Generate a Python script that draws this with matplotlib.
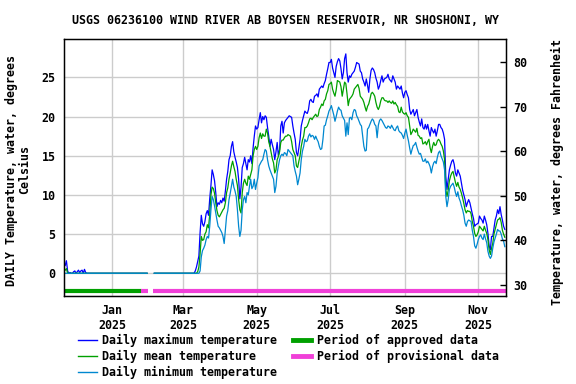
import numpy as np
import pandas as pd
import matplotlib
matplotlib.use("Agg")
import matplotlib.pyplot as plt
import matplotlib.dates as mdates
from matplotlib.lines import Line2D

plt.rcParams['font.family'] = ['DejaVu Sans Mono']
plt.rcParams['font.weight'] = 'bold'
plt.rcParams['font.size'] = 8.4

nan = np.nan

# daily values, 2024-11-23 .. 2025-11-23, deg C
dates = pd.date_range("2024-11-23", "2025-11-23", freq="D")

tmax = (
    # Nov 2024
    [1.0, 1.6, 0.3, 0.0, 0.1, 0.0, 0.0, 0.2]
    # Dec
    + [0.3, 0.0, 0.2, 0.4, 0.1, 0.3, 0.4, 0.0, 0.5, 0.1,
       0.0, 0.0, 0.0, 0.0, 0.0, 0.0, 0.0, 0.0, 0.0, 0.0,
       0.0, 0.0, 0.0, 0.0, 0.0, 0.0, 0.0, 0.0, 0.0, 0.0, 0.0]
    # Jan 2025
    + [0.0, 0.0, 0.0, 0.0, 0.0, 0.0, 0.0, 0.0, 0.0, 0.0,
       0.0, 0.0, 0.0, 0.0, 0.0, 0.0, 0.0, 0.0, 0.0, 0.0,
       0.0, 0.0, 0.0, 0.0, 0.0, 0.0, 0.0, 0.0, 0.0, 0.0, nan]
    # Feb
    + [nan, nan, nan, nan, 0.0, 0.0, 0.0, 0.0, 0.0, 0.0,
       0.0, 0.0, 0.0, 0.0, 0.0, 0.0, 0.0, 0.0, 0.0, 0.0,
       0.0, 0.0, 0.0, 0.0, 0.0, 0.0, 0.0, 0.0]
    # Mar
    + [0.0, 0.0, 0.0, 0.0, 0.0, 0.0, 0.0, 0.0, 0.0, 0.0,
       0.3, 0.8, 1.5, 2.2, 5.2, 7.4, 6.3, 6.0, 6.6, 7.6,
       8.0, 7.4, 9.5, 11.2, 13.2, 12.6, 11.8, 10.3, 8.5, 9.0, 8.8]
    # Apr
    + [9.3, 9.0, 9.6, 9.2, 10.5, 12.0, 13.0, 14.5, 15.0, 16.2,
       16.8, 15.5, 14.8, 14.2, 13.5, 12.0, 9.5, 11.0, 13.5, 14.0,
       14.8, 14.0, 13.2, 14.5, 14.2, 15.0, 14.0, 16.0, 17.5, 18.8]
    # May
    + [18.4, 18.6, 19.6, 20.5, 19.2, 20.0, 19.6, 20.1, 19.9, 18.6,
       17.5, 16.2, 17.1, 16.4, 15.8, 14.5, 15.5, 16.7, 15.0, 15.8,
       18.8, 19.4, 17.9, 19.2, 19.5, 19.7, 19.9, 20.1, 20.0, 19.9, 18.8]
    # Jun
    + [17.9, 17.1, 15.4, 15.0, 16.0, 17.1, 18.8, 19.5, 20.1, 20.7,
       20.5, 20.4, 20.9, 22.0, 22.2, 21.9, 21.8, 22.6, 22.7, 22.9,
       22.5, 23.5, 23.7, 23.9, 23.7, 24.2, 24.6, 25.4, 26.1, 26.9]
    # Jul
    + [26.9, 27.3, 26.2, 25.6, 25.0, 26.4, 27.0, 27.4, 27.1, 26.1,
       24.8, 25.6, 27.4, 28.0, 25.6, 24.4, 25.2, 25.0, 25.4, 25.6,
       25.8, 26.3, 26.9, 26.8, 26.7, 25.8, 25.6, 24.8, 24.4, 23.9, 24.8]
    # Aug
    + [24.0, 23.1, 24.8, 25.9, 26.2, 26.0, 25.6, 24.9, 24.4, 23.5,
       23.9, 24.6, 25.2, 24.4, 24.8, 24.9, 25.0, 25.4, 24.8, 24.6,
       24.4, 25.2, 24.8, 24.4, 23.5, 23.9, 23.7, 23.5, 23.9, 23.0, 22.4]
    # Sep
    + [23.1, 23.3, 22.8, 22.4, 20.9, 20.3, 20.6, 20.9, 20.1, 20.5,
       20.9, 19.9, 19.3, 18.8, 19.7, 18.6, 18.4, 19.0, 18.4, 19.0,
       18.2, 17.5, 18.6, 18.2, 17.9, 18.4, 17.5, 18.2, 19.0, 19.0]
    # Oct
    + [18.6, 18.4, 17.9, 17.1, 12.4, 10.7, 12.0, 13.2, 13.8, 14.3,
       14.5, 13.9, 12.8, 12.4, 13.2, 12.8, 12.4, 11.5, 10.6, 10.0,
       9.4, 8.5, 9.0, 9.4, 9.0, 8.3, 7.6, 7.0, 6.0, 6.2, 6.3]
    # Nov
    + [6.4, 7.3, 7.0, 6.8, 6.4, 7.3, 6.8, 6.2, 5.1, 3.5,
       3.0, 4.7, 4.7, 5.8, 6.8, 7.3, 8.1, 7.6, 8.5, 7.5,
       6.8, 6.0, 5.6]
)

tmean = (
    [0.4, 0.6, 0.0, 0.0, 0.0, 0.0, 0.0, 0.0]
    + [0.0, 0.0, 0.0, 0.0, 0.0, 0.0, 0.0, 0.0, 0.0, 0.0,
       0.0, 0.0, 0.0, 0.0, 0.0, 0.0, 0.0, 0.0, 0.0, 0.0,
       0.0, 0.0, 0.0, 0.0, 0.0, 0.0, 0.0, 0.0, 0.0, 0.0, 0.0]
    + [0.0, 0.0, 0.0, 0.0, 0.0, 0.0, 0.0, 0.0, 0.0, 0.0,
       0.0, 0.0, 0.0, 0.0, 0.0, 0.0, 0.0, 0.0, 0.0, 0.0,
       0.0, 0.0, 0.0, 0.0, 0.0, 0.0, 0.0, 0.0, 0.0, 0.0, nan]
    + [nan, nan, nan, nan, 0.0, 0.0, 0.0, 0.0, 0.0, 0.0,
       0.0, 0.0, 0.0, 0.0, 0.0, 0.0, 0.0, 0.0, 0.0, 0.0,
       0.0, 0.0, 0.0, 0.0, 0.0, 0.0, 0.0, 0.0]
    + [0.0, 0.0, 0.0, 0.0, 0.0, 0.0, 0.0, 0.0, 0.0, 0.0,
       0.0, 0.0, 0.2, 0.8, 2.5, 4.7, 4.2, 4.3, 5.0, 5.3,
       6.2, 5.8, 7.5, 10.0, 11.0, 10.8, 10.2, 9.0, 8.0, 7.4, 7.2]
    + [7.5, 7.8, 8.1, 8.3, 9.0, 10.3, 10.9, 12.0, 12.8, 13.7,
       14.3, 13.6, 13.0, 12.0, 11.2, 9.4, 8.1, 7.7, 10.3, 11.5,
       12.0, 11.5, 11.2, 12.4, 12.0, 12.6, 13.2, 15.0, 15.8, 16.2]
    + [15.8, 16.2, 17.3, 17.9, 17.2, 17.8, 17.5, 17.5, 18.4, 17.9,
       16.8, 16.2, 15.4, 14.6, 14.1, 12.8, 13.2, 14.5, 14.9, 15.5,
       16.7, 17.0, 17.0, 17.3, 17.5, 17.5, 17.7, 17.6, 17.5, 16.8, 15.8]
    + [15.4, 15.0, 13.7, 13.5, 14.3, 15.0, 16.2, 17.0, 17.5, 18.6,
       18.6, 18.8, 19.2, 19.7, 19.8, 19.6, 19.9, 20.1, 20.3, 20.0,
       20.1, 20.9, 21.2, 21.6, 21.4, 22.0, 22.2, 22.9, 23.3, 24.1]
    + [24.2, 24.4, 23.5, 23.0, 22.6, 23.4, 24.6, 24.5, 24.4, 23.8,
       22.6, 23.5, 24.4, 24.2, 22.9, 21.4, 22.2, 22.4, 22.6, 22.9,
       23.5, 23.7, 23.9, 24.1, 23.6, 22.6, 22.4, 22.2, 21.8, 21.2, 20.7]
    + [21.3, 21.6, 22.2, 22.9, 23.1, 22.9, 22.6, 21.8, 21.2, 20.9,
       21.3, 22.0, 22.4, 22.4, 22.1, 22.0, 22.0, 21.8, 22.0, 21.8,
       21.7, 22.0, 21.6, 21.8, 21.5, 21.3, 20.6, 20.5, 21.2, 20.6, 20.4]
    + [20.3, 20.5, 20.1, 19.9, 18.8, 17.7, 18.0, 18.4, 18.2, 18.0,
       18.5, 17.6, 17.5, 17.2, 17.3, 16.5, 16.6, 16.8, 16.4, 16.8,
       17.1, 16.0, 15.4, 16.2, 16.7, 16.3, 16.4, 16.9, 17.1, 16.9]
    + [16.5, 16.2, 15.6, 14.5, 10.7, 9.8, 10.6, 11.8, 12.4, 12.8,
       13.0, 12.3, 11.6, 11.1, 11.6, 11.0, 10.7, 10.2, 9.6, 8.9,
       8.1, 7.7, 8.0, 7.9, 7.9, 7.6, 6.6, 6.0, 5.1, 4.7, 4.9]
    + [5.3, 6.0, 5.8, 5.6, 5.4, 6.0, 5.5, 5.1, 4.3, 3.0,
       2.4, 3.2, 3.8, 5.0, 5.6, 6.2, 6.8, 6.9, 7.1, 6.5,
       5.5, 5.0, 4.6]
)

tmin = (
    [0.0, 0.0, 0.0, 0.0, 0.0, 0.0, 0.0, 0.0]
    + [0.0, 0.0, 0.0, 0.0, 0.0, 0.0, 0.0, 0.0, 0.0, 0.0,
       0.0, 0.0, 0.0, 0.0, 0.0, 0.0, 0.0, 0.0, 0.0, 0.0,
       0.0, 0.0, 0.0, 0.0, 0.0, 0.0, 0.0, 0.0, 0.0, 0.0, 0.0]
    + [0.0, 0.0, 0.0, 0.0, 0.0, 0.0, 0.0, 0.0, 0.0, 0.0,
       0.0, 0.0, 0.0, 0.0, 0.0, 0.0, 0.0, 0.0, 0.0, 0.0,
       0.0, 0.0, 0.0, 0.0, 0.0, 0.0, 0.0, 0.0, 0.0, 0.0, nan]
    + [nan, nan, nan, nan, 0.0, 0.0, 0.0, 0.0, 0.0, 0.0,
       0.0, 0.0, 0.0, 0.0, 0.0, 0.0, 0.0, 0.0, 0.0, 0.0,
       0.0, 0.0, 0.0, 0.0, 0.0, 0.0, 0.0, 0.0]
    + [0.0, 0.0, 0.0, 0.0, 0.0, 0.0, 0.0, 0.0, 0.0, 0.0,
       0.0, 0.0, 0.0, 0.0, 0.3, 2.1, 2.9, 3.2, 3.6, 4.3,
       4.7, 4.5, 6.0, 8.1, 9.8, 9.4, 8.6, 7.7, 6.8, 6.0, 5.8]
    + [5.5, 5.2, 4.7, 3.8, 5.5, 7.3, 8.0, 9.4, 10.2, 11.1,
       12.0, 11.0, 10.5, 9.8, 8.1, 6.0, 4.7, 5.5, 8.1, 9.4,
       9.8, 9.0, 10.3, 10.0, 11.1, 12.0, 10.8, 11.1, 12.0, 10.7]
    + [11.5, 12.2, 13.7, 14.0, 14.3, 14.5, 15.2, 15.8, 15.6, 14.5,
       13.7, 13.2, 12.8, 12.4, 12.0, 10.3, 11.1, 12.8, 13.7, 14.5,
       15.0, 15.2, 15.0, 15.4, 15.3, 15.0, 15.8, 15.6, 15.4, 15.2, 15.0]
    + [13.7, 13.0, 12.4, 11.3, 12.0, 12.8, 14.5, 15.6, 16.2, 17.1,
       16.8, 16.9, 17.5, 17.8, 17.4, 17.6, 17.5, 17.1, 17.5, 17.1,
       16.8, 16.2, 15.8, 15.9, 17.1, 18.8, 18.9, 19.6, 20.1, 20.7]
    + [21.0, 21.4, 20.8, 20.2, 19.4, 20.0, 20.7, 21.2, 20.9, 20.8,
       20.1, 19.8, 19.5, 17.5, 19.2, 17.7, 19.8, 19.9, 19.6, 20.5,
       20.9, 20.8, 20.1, 19.8, 19.4, 19.0, 18.8, 17.5, 16.2, 15.6, 15.7]
    + [18.4, 18.6, 19.0, 19.4, 19.7, 19.5, 19.0, 18.8, 17.3, 18.9,
       19.5, 19.7, 19.5, 19.2, 18.9, 18.6, 18.5, 18.8, 18.7, 18.5,
       18.9, 18.6, 18.3, 18.2, 18.6, 18.8, 18.2, 18.0, 17.9, 17.6, 17.2]
    + [17.9, 18.4, 17.6, 16.9, 16.0, 15.2, 15.8, 16.3, 16.4, 16.7,
       16.1, 15.6, 15.2, 15.3, 14.8, 14.3, 14.3, 14.6, 14.1, 14.3,
       14.0, 13.6, 12.8, 13.6, 14.1, 14.3, 14.0, 14.8, 15.4, 15.6]
    + [15.0, 14.6, 14.2, 13.2, 9.8, 8.5, 9.4, 10.7, 11.1, 11.3,
       11.5, 11.0, 10.3, 9.8, 10.4, 9.6, 9.2, 8.6, 8.1, 7.4,
       6.4, 6.0, 6.6, 6.8, 6.7, 6.6, 5.5, 4.7, 3.5, 3.2, 3.7]
    + [4.3, 4.7, 4.9, 4.5, 4.3, 5.0, 4.4, 3.9, 2.8, 2.2,
       1.9, 2.2, 3.2, 4.0, 4.5, 5.0, 5.6, 5.4, 5.4, 5.0,
       4.4, 4.1, 3.4]
)

approved_periods = [("2024-11-22", "2025-01-25")]
provisional_periods = [("2025-01-25", "2025-01-31"), ("2025-02-04", "2025-11-24")]

title = "USGS 06236100 WIND RIVER AB BOYSEN RESERVOIR, NR SHOSHONI, WY"

c_max = "#0000ff"
c_mean = "#00a000"
c_min = "#0088d0"
c_appr = "#00a000"
c_prov = "#f040d8"

fig = plt.figure(figsize=(5.76, 3.84), dpi=100)
ax = fig.add_axes([64 / 576, 1 - 296 / 384, 442 / 576, 257 / 384])

ax.plot(dates, tmax, color=c_max, lw=0.9)
ax.plot(dates, tmean, color=c_mean, lw=0.9)
ax.plot(dates, tmin, color=c_min, lw=0.9)

bar_y = -2.3
for s, e in approved_periods:
    ax.plot([pd.Timestamp(s), pd.Timestamp(e)], [bar_y, bar_y], color=c_appr,
            lw=3, solid_capstyle="butt", clip_on=False)
for s, e in provisional_periods:
    ax.plot([pd.Timestamp(s), pd.Timestamp(e)], [bar_y, bar_y], color=c_prov,
            lw=3, solid_capstyle="butt")

ax.set_xlim(pd.Timestamp("2024-11-22"), pd.Timestamp("2025-11-24"))
ax.set_ylim(-2.9, 29.9)
ax.set_yticks([0, 5, 10, 15, 20, 25])
ax.xaxis.set_major_locator(mdates.MonthLocator(bymonth=[1, 3, 5, 7, 9, 11]))
ax.xaxis.set_major_formatter(mdates.DateFormatter("%b\n%Y"))
ax.grid(color="#cccccc", lw=1)
ax.set_axisbelow(True)
ax.tick_params(axis="both", direction="in", length=0, pad=6)
for sp in ax.spines.values():
    sp.set_linewidth(1)

ax2 = ax.twinx()
ax2.set_ylim(27.5, 85.2)
ax2.set_yticks([30, 40, 50, 60, 70, 80])
ax2.tick_params(axis="y", direction="in", length=4, width=1, pad=5)

fig.text(285 / 576, 1 - 20 / 384, title, ha="center", va="center")
fig.text(18 / 576, 1 - 170 / 384, "DAILY Temperature, water, degrees\nCelsius",
         rotation=90, ha="center", va="center", multialignment="center",
         linespacing=1.0)
fig.text(557 / 576, 1 - 172 / 384, "Temperature, water, degrees Fahrenheit",
         rotation=90, ha="center", va="center")

handles = [
    Line2D([], [], color=c_max, lw=1),
    Line2D([], [], color=c_mean, lw=1),
    Line2D([], [], color=c_min, lw=1),
    Line2D([], [], color=c_appr, lw=3.5),
    Line2D([], [], color=c_prov, lw=3.5),
]
labels = ["Daily maximum temperature", "Daily mean temperature",
          "Daily minimum temperature", "Period of approved data",
          "Period of provisional data"]
fig.legend(handles, labels, ncol=2, frameon=False, loc="upper left",
           bbox_to_anchor=(78 / 576, 1 - 334 / 384), borderpad=0,
           handlelength=1.6, handletextpad=0.5, columnspacing=1.3,
           labelspacing=0.25, borderaxespad=0)

fig.savefig("out.png", dpi=100)
